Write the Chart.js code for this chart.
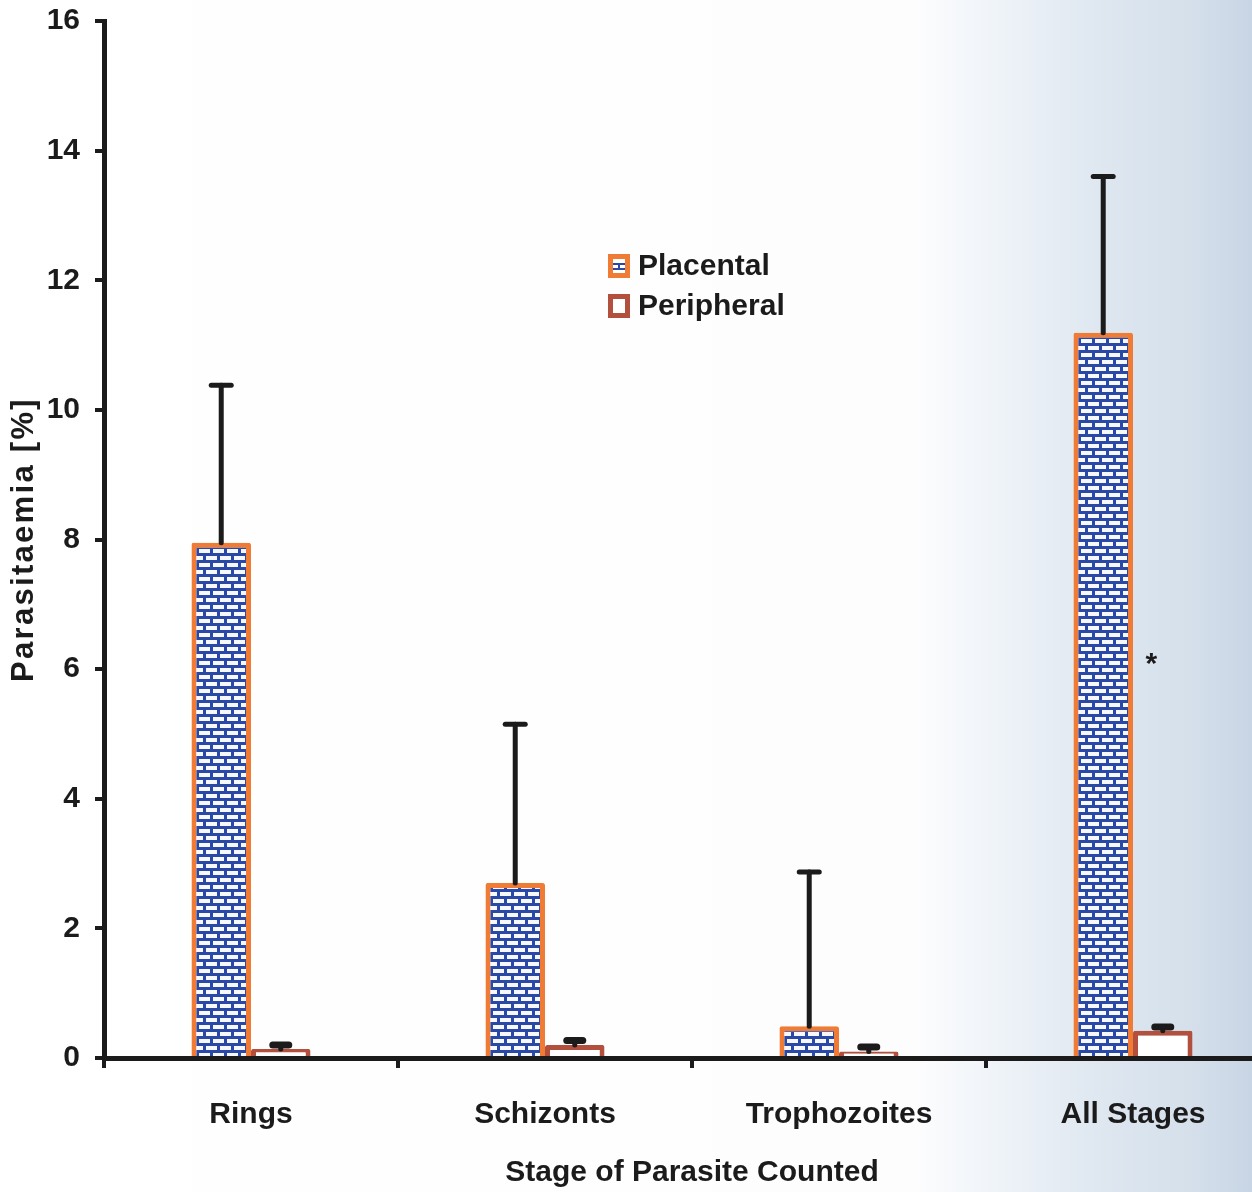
<!DOCTYPE html>
<html><head><meta charset="utf-8">
<script src="https://cdn.jsdelivr.net/npm/chart.js@4.4.1/dist/chart.umd.min.js"></script>
<style>
html,body{margin:0;padding:0;overflow:hidden;width:1252px;height:1192px;}
body{background:linear-gradient(to right,#ffffff 0%,#fdfdfe 73%,#eef3f8 80%,#e0e8f1 87%,#d5e0eb 95%,#c8d5e5 100%);}
#wrap{position:absolute;left:0;top:0;width:1282px;height:1192px;}
</style></head>
<body><div id="wrap"><canvas id="c" width="1282" height="1192"></canvas></div>
<script>
const categories = ['Rings', 'Schizonts', 'Trophozoites', 'All Stages'];
const seriesNames = ['Placental', 'Peripheral'];
const placental = [7.95, 2.70, 0.49, 11.19];
const placentalUpper = [10.38, 5.15, 2.87, 13.60];
const peripheral = [0.14, 0.20, 0.10, 0.42];
const peripheralUpper = [0.20, 0.27, 0.17, 0.48];
const yTicks = [0, 2, 4, 6, 8, 10, 12, 14, 16];
const annotationText = '*';

const FONT = "'Liberation Sans', Arial, Helvetica, sans-serif";
const ORANGE = '#EF7B35', BROWN = '#B3503D', BLUE = '#2a48a6', INK = '#1b1b1b';

function brickPattern() {
  const t = document.createElement('canvas');
  t.width = 14; t.height = 14;
  const g = t.getContext('2d');
  g.fillStyle = '#f6f8fc'; g.fillRect(0, 0, 14, 14);
  g.fillStyle = BLUE;
  g.fillRect(0, 0, 14, 3);
  g.fillRect(0, 7, 14, 3);
  g.fillRect(0, 0, 3, 7);
  g.fillRect(7, 7, 3, 7);
  return document.getElementById('c').getContext('2d').createPattern(t, 'repeat');
}
const pattern = brickPattern();

const errorBars = {
  id: 'errorBars',
  afterDatasetsDraw(chart) {
    const ctx = chart.ctx, ys = chart.scales.y;
    chart.data.datasets.forEach((ds, i) => {
      const meta = chart.getDatasetMeta(i);
      meta.data.forEach((el, j) => {
        const yTop = ys.getPixelForValue(ds.upper[j]);
        ctx.save();
        ctx.strokeStyle = INK; ctx.lineCap = 'round';
        ctx.lineWidth = 5;
        ctx.beginPath(); ctx.moveTo(el.x, el.y); ctx.lineTo(el.x, yTop); ctx.stroke();
        ctx.lineWidth = ds.capThick;
        ctx.beginPath(); ctx.moveTo(el.x - ds.capHalf, yTop); ctx.lineTo(el.x + ds.capHalf, yTop); ctx.stroke();
        ctx.restore();
      });
    });
  }
};

const extras = {
  id: 'extras',
  afterUpdate(chart) {
    const s = chart.scales.y;
    if (s && !s._patched) {
      const orig = s.drawTitle;
      s.drawTitle = function () {
        const c = this.ctx; c.save(); c.letterSpacing = '2.3px'; orig.apply(this, arguments); c.restore();
      };
      s._patched = true;
    }
  },
  afterDraw(chart) {
    const ctx = chart.ctx, ca = chart.chartArea;
    // legend
    const lx = ca.left + 504, ly = ca.top + 245;
    chart.data.datasets.forEach((ds, i) => {
      const y = ly + i * 40;
      ctx.save();
      ctx.fillStyle = ds.borderColor; ctx.fillRect(lx, y - 12, 22, 24);
      ctx.fillStyle = '#ffffff'; ctx.fillRect(lx + 5, y - 7, 12, 14);
      if (i === 0) {
        ctx.fillStyle = BLUE;
        ctx.fillRect(lx + 5, y - 3, 12, 2);
        ctx.fillRect(lx + 5, y + 2, 12, 2);
        ctx.fillRect(lx + 10, y - 3, 2, 7);
      }
      ctx.fillStyle = INK;
      ctx.font = 'bold 30px ' + FONT;
      ctx.textBaseline = 'middle';
      ctx.fillText(ds.label, lx + 30, y + 1);
      ctx.restore();
    });
    // asterisk annotation
    const meta = chart.getDatasetMeta(0);
    const el = meta.data[3];
    ctx.save();
    ctx.fillStyle = INK; ctx.font = 'bold 30px ' + FONT;
    ctx.textAlign = 'center'; ctx.textBaseline = 'middle';
    ctx.fillText(annotationText, el.x + 48, chart.scales.y.getPixelForValue(6.0) - 4);
    ctx.restore();
  }
};

new Chart(document.getElementById('c'), {
  type: 'bar',
  data: {
    labels: categories,
    datasets: [
      { label: seriesNames[0], data: placental, upper: placentalUpper, backgroundColor: pattern,
        borderColor: ORANGE, borderWidth: 5, borderRadius: 2, capHalf: 10, capThick: 5 },
      { label: seriesNames[1], data: peripheral, upper: peripheralUpper, backgroundColor: '#ffffff',
        borderColor: BROWN, borderWidth: 5, borderRadius: 2, capHalf: 8, capThick: 7 }
    ]
  },
  options: {
    responsive: false,
    animation: false,
    devicePixelRatio: 1,
    layout: { padding: { top: 0, right: 2, left: 0, bottom: 0 } },
    categoryPercentage: 0.405,
    barPercentage: 1.0,
    plugins: { legend: { display: false }, tooltip: { enabled: false } },
    scales: {
      x: {
        afterFit(s) { s.height = 134; },
        grid: { drawOnChartArea: false, drawTicks: true, tickLength: 10, color: INK, lineWidth: 4, offset: true },
        border: { display: true, color: INK, width: 5, z: 2 },
        ticks: { color: INK, font: { family: FONT, size: 30, weight: 'bold' }, padding: 29 },
        title: { display: true, text: 'Stage of Parasite Counted', color: INK,
                 font: { family: FONT, size: 30, weight: 'bold' }, padding: { top: 0, bottom: 1 } }
      },
      y: {
        min: 0, max: 16,
        afterFit(s) { s.width = 104; s.paddingTop = 21; s.paddingBottom = 0; },
        afterBuildTicks(s) { s.ticks = yTicks.map(v => ({ value: v })); },
        grid: { drawOnChartArea: false, drawTicks: true, tickLength: 9, color: INK, lineWidth: 4 },
        border: { display: true, color: INK, width: 5, z: 2 },
        ticks: { color: INK, font: { family: FONT, size: 30, weight: 'bold' }, padding: 15 },
        title: { display: true, text: 'Parasitaemia [%]', color: INK,
                 font: { family: FONT, size: 31, weight: 'bold' }, padding: { top: 6, bottom: 0 } }
      }
    }
  },
  plugins: [errorBars, extras]
});
</script>
</body></html>
